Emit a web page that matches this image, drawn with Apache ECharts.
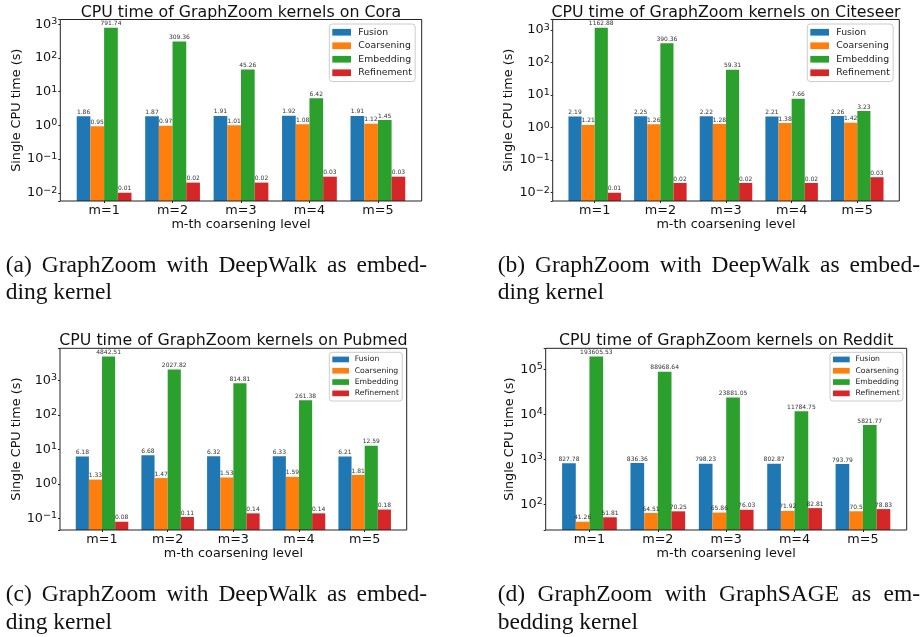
<!DOCTYPE html>
<html><head><meta charset="utf-8">
<script src="https://cdn.jsdelivr.net/npm/echarts@6/dist/echarts.min.js"></script>
<style>html,body{margin:0;padding:0;background:#fff}#c{width:920px;height:637px}</style>
</head><body><div id="c"></div>
<script>
// ---------- data ----------
const categories = ['m=1', 'm=2', 'm=3', 'm=4', 'm=5'];
const seriesNames = ['Fusion', 'Coarsening', 'Embedding', 'Refinement'];
const seriesColors = ['#1f77b4', '#ff7f0e', '#2ca02c', '#d62728'];

const coraFusion = [1.86, 1.87, 1.91, 1.92, 1.91];
const coraCoarsening = [0.95, 0.97, 1.01, 1.08, 1.12];
const coraEmbedding = [791.74, 309.36, 45.26, 6.42, 1.45];
const coraRefinement = [0.01, 0.02, 0.02, 0.03, 0.03];

const citeseerFusion = [2.19, 2.25, 2.22, 2.21, 2.26];
const citeseerCoarsening = [1.21, 1.26, 1.28, 1.38, 1.42];
const citeseerEmbedding = [1162.88, 390.36, 59.31, 7.66, 3.23];
const citeseerRefinement = [0.01, 0.02, 0.02, 0.02, 0.03];

const pubmedFusion = [6.18, 6.68, 6.32, 6.33, 6.21];
const pubmedCoarsening = [1.33, 1.47, 1.53, 1.59, 1.81];
const pubmedEmbedding = [4842.51, 2027.82, 814.81, 261.38, 12.59];
const pubmedRefinement = [0.08, 0.11, 0.14, 0.14, 0.18];

const redditFusion = [827.78, 836.36, 798.23, 802.87, 793.79];
const redditCoarsening = [41.26, 64.51, 65.86, 71.92, 70.5];
const redditEmbedding = [193605.53, 88968.64, 23881.05, 11784.75, 5821.77];
const redditRefinement = [51.81, 70.25, 76.03, 82.81, 78.83];

const panelTitles = [
  'CPU time of GraphZoom kernels on Cora',
  'CPU time of GraphZoom kernels on Citeseer',
  'CPU time of GraphZoom kernels on Pubmed',
  'CPU time of GraphZoom kernels on Reddit'
];
const xAxisTitle = 'm-th coarsening level';
const yAxisTitle = 'Single CPU time (s)';
const captions = [
  ['(a) GraphZoom with DeepWalk as embed-', 'ding kernel'],
  ['(b) GraphZoom with DeepWalk as embed-', 'ding kernel'],
  ['(c) GraphZoom with DeepWalk as embed-', 'ding kernel'],
  ['(d) GraphZoom with GraphSAGE as em-', 'bedding kernel']
];

const panelData = [
  [coraFusion, coraCoarsening, coraEmbedding, coraRefinement],
  [citeseerFusion, citeseerCoarsening, citeseerEmbedding, citeseerRefinement],
  [pubmedFusion, pubmedCoarsening, pubmedEmbedding, pubmedRefinement],
  [redditFusion, redditCoarsening, redditEmbedding, redditRefinement]
];

// ---------- layout ----------
const panels = [
  {l: 60.3, r: 421.7, t: 19.5, b: 201, titleY: 12.7, lx: 329.3, ly: 24, lfs: 9.3, liw: 18.7, lih: 6.7, lrow: 13.5, ltp: 2.3, yGap: 35.5,
   cap: {x0: 5.7, x1: 427, y1: 266.3, y2: 293}},
  {l: 552.7, r: 899.3, t: 19.5, b: 201, titleY: 12.7, lx: 807.3, ly: 24, lfs: 9.3, liw: 18.7, lih: 6.7, lrow: 13.5, ltp: 2.3, yGap: 35.5,
   cap: {x0: 497.7, x1: 920, y1: 266.3, y2: 293}},
  {l: 60, r: 406.7, t: 348.3, b: 530, titleY: 341, lx: 329.3, ly: 352.3, lfs: 7.7, liw: 16.7, lih: 5.7, lrow: 11.3, ltp: 0.7, yGap: 36,
   cap: {x0: 5.7, x1: 427, y1: 595.3, y2: 622.7}},
  {l: 545.7, r: 906.7, t: 348.3, b: 530, titleY: 341, lx: 830, ly: 352.3, lfs: 7.7, liw: 16.7, lih: 5.7, lrow: 11.3, ltp: 0.7, yGap: 28.4,
   cap: {x0: 497.7, x1: 920, y1: 595.3, y2: 622.7}}
];

const FONT = 'DejaVu Sans';
const TXT = '#111';
const grids = [], xAxes = [], yAxes = [], series = [], legends = [], graphics = [];

function supLabel(v) {
  const lg = Math.log10(v);
  const e = Math.round(lg);
  if (Math.abs(lg - e) > 1e-6) return '';
  return '{b|10}{s|' + (e < 0 ? '\u2212' + (-e) : String(e)) + '}';
}

panels.forEach((p, i) => {
  const unit = (p.r - p.l) / 5.28;
  const inset = 0.14 * unit;
  const all = [].concat(...panelData[i]);
  const lmin = Math.log10(Math.min(...all));
  const lmax = Math.log10(Math.max(...all));
  const span = lmax - lmin;
  const ymin = Math.pow(10, lmin - 0.05 * span);
  const ymax = Math.pow(10, lmax + 0.05 * span);

  grids.push({left: p.l + inset, top: p.t, width: (p.r - p.l) - 2 * inset, height: p.b - p.t, containLabel: false});
  xAxes.push({
    type: 'category', gridIndex: i, data: categories,
    axisLine: {show: false},
    axisTick: {show: true, alignWithLabel: true, length: 2, lineStyle: {color: '#222'}},
    axisLabel: {fontFamily: FONT, fontSize: 12.8, color: TXT, margin: 3.5},
    name: xAxisTitle, nameLocation: 'middle', nameGap: 16.3,
    nameTextStyle: {fontFamily: FONT, fontSize: 12.8, color: TXT},
    splitLine: {show: false}
  });
  yAxes.push({
    type: 'log', gridIndex: i, min: ymin, max: ymax, startValue: ymin, offset: inset,
    axisLine: {show: false},
    axisTick: {show: true, length: 2, lineStyle: {color: '#222'}},
    splitLine: {show: false},
    axisLabel: {
      margin: 3, formatter: supLabel,
      rich: {
        b: {fontFamily: FONT, fontSize: 12.8, color: TXT},
        s: {fontFamily: FONT, fontSize: 9.5, color: TXT, padding: [0, 0, 5, 0]}
      }
    },
    name: yAxisTitle, nameLocation: 'middle', nameGap: p.yGap,
    nameTextStyle: {fontFamily: FONT, fontSize: 12.8, color: TXT}
  });
  seriesNames.forEach((n, s) => {
    series.push({
      type: 'bar', name: n, xAxisIndex: i, yAxisIndex: i, data: panelData[i][s],
      barGap: '0%', barCategoryGap: '20%',
      itemStyle: {color: seriesColors[s]},
      label: {show: true, position: 'top', distance: 1, fontFamily: FONT, fontSize: 6, color: '#333',
              formatter: q => String(q.value)},
      emphasis: {disabled: true}
    });
  });
  legends.push({
    orient: 'vertical', left: p.lx, top: p.ly, padding: [1.5, 3.3, 2, 3],
    itemWidth: p.liw, itemHeight: p.lih, itemGap: 0, icon: 'rect', selectedMode: false,
    textStyle: {fontFamily: FONT, fontSize: p.lfs, color: '#222', lineHeight: p.lrow, padding: [0, 0, 0, p.ltp]},
    borderColor: '#cccccc', borderWidth: 1, borderRadius: 3, backgroundColor: 'rgba(255,255,255,0.8)',
    data: seriesNames
  });
  graphics.push({
    type: 'text', x: (p.l + p.r) / 2, y: p.titleY, z: 10,
    style: {text: panelTitles[i], font: '15.8px "' + FONT + '"', fill: TXT,
            align: 'center', verticalAlign: 'middle', textAlign: 'center', textVerticalAlign: 'middle'}
  });
});
// frames
panels.forEach(p => {
  grids.push({left: p.l, top: p.t, width: p.r - p.l, height: p.b - p.t, show: true,
              borderColor: '#222', borderWidth: 1, backgroundColor: 'transparent', z: 5});
});

// captions (justified first line)
const capFont = '23.5px "Liberation Serif"';
const ctx = document.createElement('canvas').getContext('2d');
ctx.font = capFont;
panels.forEach((p, i) => {
  const words = captions[i][0].split(' ');
  const widths = words.map(w => ctx.measureText(w).width);
  const total = widths.reduce((a, b) => a + b, 0);
  const gap = (p.cap.x1 - p.cap.x0 - total) / (words.length - 1);
  let x = p.cap.x0;
  words.forEach((w, k) => {
    graphics.push({type: 'text', x: x, y: p.cap.y1,
      style: {text: w, font: capFont, fill: TXT, align: 'left', verticalAlign: 'middle', textAlign: 'left', textVerticalAlign: 'middle'}});
    x += widths[k] + gap;
  });
  graphics.push({type: 'text', x: p.cap.x0, y: p.cap.y2,
    style: {text: captions[i][1], font: capFont, fill: TXT, align: 'left', verticalAlign: 'middle', textAlign: 'left', textVerticalAlign: 'middle'}});
});

const chart = echarts.init(document.getElementById('c'), null, {renderer: 'canvas'});
chart.setOption({
  animation: false,
  backgroundColor: '#fff',
  grid: grids, xAxis: xAxes, yAxis: yAxes, series: series, legend: legends,
  graphic: {elements: graphics}
});
</script></body></html>
